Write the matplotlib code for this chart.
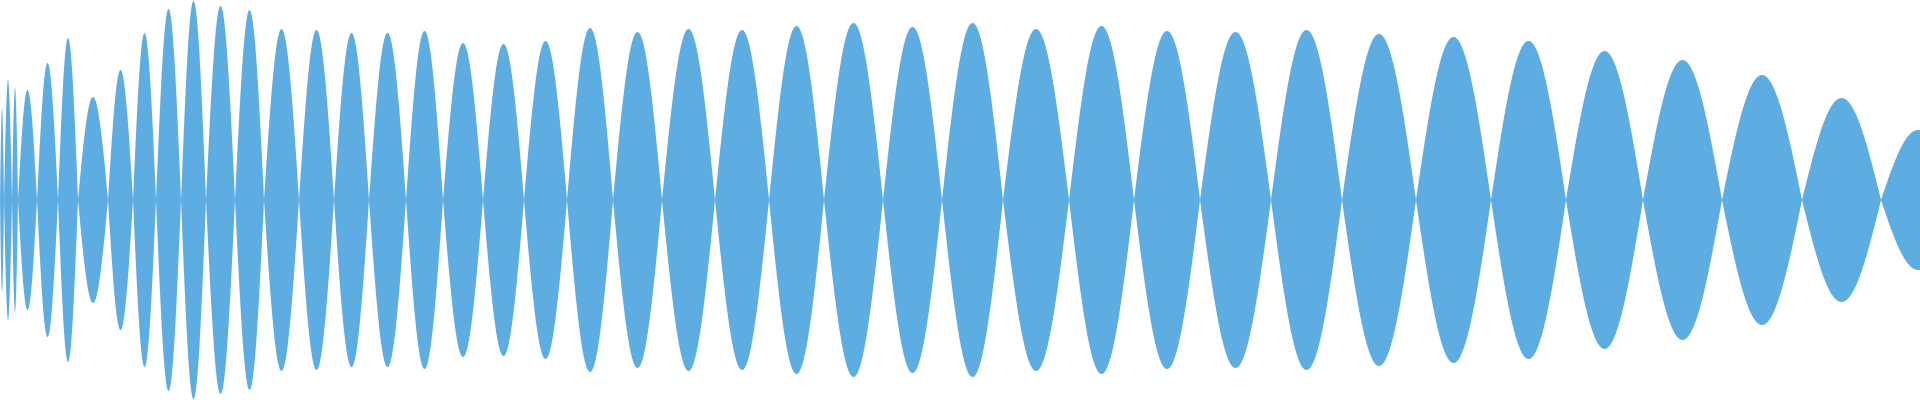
import numpy as np
import matplotlib
matplotlib.use("Agg")
import matplotlib.pyplot as plt

# zero crossings of the envelope (sample position, 0..1920) and peak amplitude per lobe
zeros = [0, 4, 12, 18, 37, 58, 78, 108, 133, 156, 181, 206, 235, 264, 299, 334, 369,
         406, 443, 483, 524, 567, 613, 662, 715, 769, 824, 883, 942, 1003, 1069, 1134,
         1200, 1271, 1342, 1416, 1491, 1566, 1643, 1722, 1802, 1881, 1955]
peaks = [92, 120, 112, 110, 137, 162, 103, 130, 167, 191, 199, 194, 190, 171, 170, 167,
         167, 169, 157, 156, 159, 172, 168, 171, 170, 174, 177, 173, 177, 171, 174, 169,
         168, 170, 166, 163, 159, 149, 140, 125, 102, 70]

COLOR = "#5dade2"

xs, env = [], []
for i, amp in enumerate(peaks):
    t = np.linspace(0, 1, 120)
    xs.append(zeros[i] + t * (zeros[i + 1] - zeros[i]))
    env.append(amp * np.sin(np.pi * t))
x = np.concatenate(xs)
y = np.concatenate(env)

fig = plt.figure(figsize=(19.2, 4), dpi=100)
ax = fig.add_axes((0, 0, 1, 1))
ax.fill_between(x, -y, y, color=COLOR, linewidth=0)
ax.set_xlim(0, 1920)
ax.set_ylim(-200, 200)
ax.axis("off")
fig.savefig("out.png", dpi=100, facecolor="white")
